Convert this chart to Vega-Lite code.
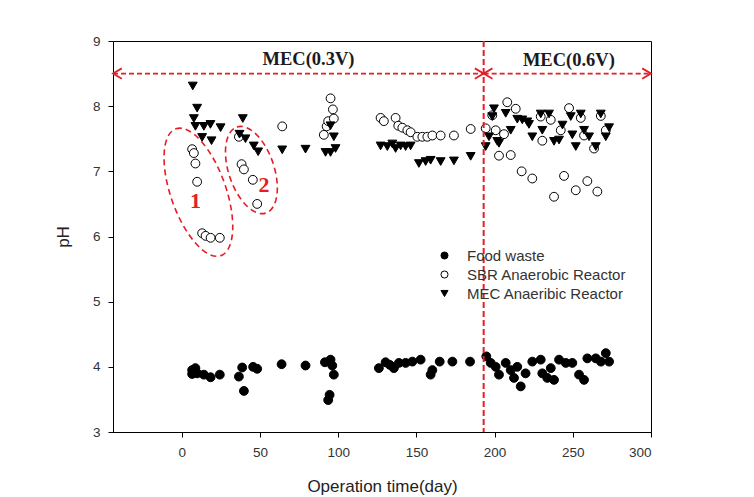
{
  "$schema": "https://vega.github.io/schema/vega-lite/v6.json",
  "width": 538,
  "height": 391,
  "autosize": "none",
  "padding": {"left": 113, "top": 41, "right": 103, "bottom": 65},
  "background": "white",
  "config": {
    "view": {"stroke": "#000", "strokeWidth": 1},
    "font": "Liberation Sans",
    "axis": {"grid": false, "domainColor": "#000", "tickColor": "#000", "tickSize": 5, "labelFont": "Liberation Sans", "labelFontSize": 13.5, "labelColor": "#333", "titleFont": "Liberation Sans", "titleFontWeight": "normal", "titleColor": "#222", "titleFontSize": 17}
  },
  "datasets": {
    "pts": [
      {"s":"Food waste","d":6.6,"p":3.95},{"s":"Food waste","d":8.7,"p":3.98},{"s":"Food waste","d":9.8,"p":3.9},{"s":"Food waste","d":6.6,"p":3.89},{"s":"Food waste","d":14.1,"p":3.88},{"s":"Food waste","d":18.4,"p":3.84},{"s":"Food waste","d":24.3,"p":3.88},{"s":"Food waste","d":38.6,"p":3.99},{"s":"Food waste","d":36.5,"p":3.85},{"s":"Food waste","d":39.7,"p":3.63},{"s":"Food waste","d":45.6,"p":4.0},{"s":"Food waste","d":48.2,"p":3.97},{"s":"Food waste","d":63.8,"p":4.04},{"s":"Food waste","d":79.1,"p":4.02},{"s":"Food waste","d":91.5,"p":4.07},{"s":"Food waste","d":95.1,"p":4.11},{"s":"Food waste","d":96.2,"p":4.02},{"s":"Food waste","d":97.2,"p":3.88},{"s":"Food waste","d":94.5,"p":3.57},{"s":"Food waste","d":93.6,"p":3.49},{"s":"Food waste","d":126,"p":3.98},{"s":"Food waste","d":130.3,"p":4.07},{"s":"Food waste","d":133,"p":4.03},{"s":"Food waste","d":135.6,"p":3.98},{"s":"Food waste","d":138.8,"p":4.06},{"s":"Food waste","d":143.1,"p":4.06},{"s":"Food waste","d":147.4,"p":4.08},{"s":"Food waste","d":152.7,"p":4.11},{"s":"Food waste","d":159.1,"p":3.88},{"s":"Food waste","d":160.2,"p":3.95},{"s":"Food waste","d":164.9,"p":4.08},{"s":"Food waste","d":173,"p":4.08},{"s":"Food waste","d":184.3,"p":4.08},{"s":"Food waste","d":194.7,"p":4.16},{"s":"Food waste","d":197.5,"p":4.06},{"s":"Food waste","d":200.7,"p":4.0},{"s":"Food waste","d":202.8,"p":3.88},{"s":"Food waste","d":207.1,"p":4.06},{"s":"Food waste","d":210.3,"p":3.95},{"s":"Food waste","d":212.4,"p":3.83},{"s":"Food waste","d":214.5,"p":4.0},{"s":"Food waste","d":216.7,"p":3.7},{"s":"Food waste","d":219.8,"p":3.9},{"s":"Food waste","d":224.1,"p":4.08},{"s":"Food waste","d":229.5,"p":4.11},{"s":"Food waste","d":230.5,"p":3.9},{"s":"Food waste","d":235.9,"p":3.98},{"s":"Food waste","d":233.7,"p":3.83},{"s":"Food waste","d":238,"p":3.8},{"s":"Food waste","d":241.2,"p":4.11},{"s":"Food waste","d":245.5,"p":4.06},{"s":"Food waste","d":249.7,"p":4.06},{"s":"Food waste","d":254,"p":3.88},{"s":"Food waste","d":257.2,"p":3.8},{"s":"Food waste","d":259.3,"p":4.13},{"s":"Food waste","d":264.7,"p":4.13},{"s":"Food waste","d":268,"p":4.08},{"s":"Food waste","d":271.1,"p":4.21},{"s":"Food waste","d":273.2,"p":4.08},
      {"s":"SBR Anaerobic Reactor","d":6.6,"p":7.34},{"s":"SBR Anaerobic Reactor","d":7.7,"p":7.28},{"s":"SBR Anaerobic Reactor","d":8.7,"p":7.12},{"s":"SBR Anaerobic Reactor","d":9.8,"p":6.84},{"s":"SBR Anaerobic Reactor","d":13,"p":6.05},{"s":"SBR Anaerobic Reactor","d":15.2,"p":6.01},{"s":"SBR Anaerobic Reactor","d":18.4,"p":5.98},{"s":"SBR Anaerobic Reactor","d":24.3,"p":5.98},{"s":"SBR Anaerobic Reactor","d":36.5,"p":7.53},{"s":"SBR Anaerobic Reactor","d":38.2,"p":7.11},{"s":"SBR Anaerobic Reactor","d":39.7,"p":7.03},{"s":"SBR Anaerobic Reactor","d":45.4,"p":6.87},{"s":"SBR Anaerobic Reactor","d":48.2,"p":6.5},{"s":"SBR Anaerobic Reactor","d":64.2,"p":7.69},{"s":"SBR Anaerobic Reactor","d":90.8,"p":7.56},{"s":"SBR Anaerobic Reactor","d":92.6,"p":7.69},{"s":"SBR Anaerobic Reactor","d":93.6,"p":7.77},{"s":"SBR Anaerobic Reactor","d":95.1,"p":8.12},{"s":"SBR Anaerobic Reactor","d":96.6,"p":7.95},{"s":"SBR Anaerobic Reactor","d":97.2,"p":7.81},{"s":"SBR Anaerobic Reactor","d":127.1,"p":7.82},{"s":"SBR Anaerobic Reactor","d":129.2,"p":7.77},{"s":"SBR Anaerobic Reactor","d":136.7,"p":7.82},{"s":"SBR Anaerobic Reactor","d":138.4,"p":7.7},{"s":"SBR Anaerobic Reactor","d":141,"p":7.67},{"s":"SBR Anaerobic Reactor","d":144.2,"p":7.63},{"s":"SBR Anaerobic Reactor","d":146.3,"p":7.6},{"s":"SBR Anaerobic Reactor","d":150.6,"p":7.53},{"s":"SBR Anaerobic Reactor","d":153.8,"p":7.53},{"s":"SBR Anaerobic Reactor","d":157,"p":7.53},{"s":"SBR Anaerobic Reactor","d":160.2,"p":7.55},{"s":"SBR Anaerobic Reactor","d":165.5,"p":7.55},{"s":"SBR Anaerobic Reactor","d":174,"p":7.55},{"s":"SBR Anaerobic Reactor","d":184.7,"p":7.65},{"s":"SBR Anaerobic Reactor","d":194.3,"p":7.66},{"s":"SBR Anaerobic Reactor","d":198.5,"p":7.86},{"s":"SBR Anaerobic Reactor","d":200.7,"p":7.63},{"s":"SBR Anaerobic Reactor","d":202.8,"p":7.24},{"s":"SBR Anaerobic Reactor","d":206,"p":7.57},{"s":"SBR Anaerobic Reactor","d":208.1,"p":8.06},{"s":"SBR Anaerobic Reactor","d":210.3,"p":7.25},{"s":"SBR Anaerobic Reactor","d":213.5,"p":7.96},{"s":"SBR Anaerobic Reactor","d":217.3,"p":7.0},{"s":"SBR Anaerobic Reactor","d":224.1,"p":6.89},{"s":"SBR Anaerobic Reactor","d":229.5,"p":7.84},{"s":"SBR Anaerobic Reactor","d":230.5,"p":7.47},{"s":"SBR Anaerobic Reactor","d":235.9,"p":7.79},{"s":"SBR Anaerobic Reactor","d":238,"p":6.61},{"s":"SBR Anaerobic Reactor","d":242.3,"p":7.63},{"s":"SBR Anaerobic Reactor","d":244.4,"p":6.93},{"s":"SBR Anaerobic Reactor","d":247.6,"p":7.97},{"s":"SBR Anaerobic Reactor","d":251.9,"p":6.71},{"s":"SBR Anaerobic Reactor","d":255.1,"p":7.82},{"s":"SBR Anaerobic Reactor","d":257.2,"p":7.55},{"s":"SBR Anaerobic Reactor","d":259.3,"p":6.85},{"s":"SBR Anaerobic Reactor","d":263.6,"p":7.35},{"s":"SBR Anaerobic Reactor","d":265.7,"p":6.69},{"s":"SBR Anaerobic Reactor","d":267.9,"p":7.85},{"s":"SBR Anaerobic Reactor","d":271.1,"p":7.63},
      {"s":"MEC Anaeribic Reactor","d":7.0,"p":8.31},{"s":"MEC Anaeribic Reactor","d":9.8,"p":7.97},{"s":"MEC Anaeribic Reactor","d":7.7,"p":7.81},{"s":"MEC Anaeribic Reactor","d":8.7,"p":7.69},{"s":"MEC Anaeribic Reactor","d":14.1,"p":7.69},{"s":"MEC Anaeribic Reactor","d":18.3,"p":7.72},{"s":"MEC Anaeribic Reactor","d":24.8,"p":7.67},{"s":"MEC Anaeribic Reactor","d":13,"p":7.52},{"s":"MEC Anaeribic Reactor","d":19,"p":7.47},{"s":"MEC Anaeribic Reactor","d":39,"p":7.81},{"s":"MEC Anaeribic Reactor","d":36.9,"p":7.57},{"s":"MEC Anaeribic Reactor","d":40.7,"p":7.5},{"s":"MEC Anaeribic Reactor","d":46,"p":7.39},{"s":"MEC Anaeribic Reactor","d":48.8,"p":7.3},{"s":"MEC Anaeribic Reactor","d":64.2,"p":7.33},{"s":"MEC Anaeribic Reactor","d":79.1,"p":7.34},{"s":"MEC Anaeribic Reactor","d":95.1,"p":7.7},{"s":"MEC Anaeribic Reactor","d":97.2,"p":7.53},{"s":"MEC Anaeribic Reactor","d":91.9,"p":7.29},{"s":"MEC Anaeribic Reactor","d":95.1,"p":7.29},{"s":"MEC Anaeribic Reactor","d":98.3,"p":7.35},{"s":"MEC Anaeribic Reactor","d":127.1,"p":7.39},{"s":"MEC Anaeribic Reactor","d":131.4,"p":7.38},{"s":"MEC Anaeribic Reactor","d":134.6,"p":7.42},{"s":"MEC Anaeribic Reactor","d":136.7,"p":7.35},{"s":"MEC Anaeribic Reactor","d":139.9,"p":7.39},{"s":"MEC Anaeribic Reactor","d":143.1,"p":7.38},{"s":"MEC Anaeribic Reactor","d":146.3,"p":7.39},{"s":"MEC Anaeribic Reactor","d":151.6,"p":7.12},{"s":"MEC Anaeribic Reactor","d":155.9,"p":7.15},{"s":"MEC Anaeribic Reactor","d":159.1,"p":7.17},{"s":"MEC Anaeribic Reactor","d":165.5,"p":7.15},{"s":"MEC Anaeribic Reactor","d":174,"p":7.16},{"s":"MEC Anaeribic Reactor","d":184.7,"p":7.23},{"s":"MEC Anaeribic Reactor","d":194.3,"p":7.38},{"s":"MEC Anaeribic Reactor","d":196.4,"p":7.53},{"s":"MEC Anaeribic Reactor","d":198.5,"p":7.84},{"s":"MEC Anaeribic Reactor","d":199.6,"p":7.96},{"s":"MEC Anaeribic Reactor","d":201.7,"p":7.46},{"s":"MEC Anaeribic Reactor","d":202.8,"p":7.43},{"s":"MEC Anaeribic Reactor","d":207.1,"p":7.89},{"s":"MEC Anaeribic Reactor","d":210.3,"p":7.63},{"s":"MEC Anaeribic Reactor","d":214.5,"p":7.8},{"s":"MEC Anaeribic Reactor","d":217.7,"p":7.79},{"s":"MEC Anaeribic Reactor","d":220.9,"p":7.76},{"s":"MEC Anaeribic Reactor","d":222,"p":7.72},{"s":"MEC Anaeribic Reactor","d":224.1,"p":7.53},{"s":"MEC Anaeribic Reactor","d":229.5,"p":7.88},{"s":"MEC Anaeribic Reactor","d":230.5,"p":7.63},{"s":"MEC Anaeribic Reactor","d":234.8,"p":7.88},{"s":"MEC Anaeribic Reactor","d":238,"p":7.46},{"s":"MEC Anaeribic Reactor","d":241.2,"p":7.48},{"s":"MEC Anaeribic Reactor","d":243.4,"p":7.71},{"s":"MEC Anaeribic Reactor","d":248.7,"p":7.84},{"s":"MEC Anaeribic Reactor","d":249.7,"p":7.56},{"s":"MEC Anaeribic Reactor","d":251.9,"p":7.38},{"s":"MEC Anaeribic Reactor","d":255.1,"p":7.88},{"s":"MEC Anaeribic Reactor","d":257.2,"p":7.63},{"s":"MEC Anaeribic Reactor","d":260.4,"p":7.53},{"s":"MEC Anaeribic Reactor","d":264.7,"p":7.38},{"s":"MEC Anaeribic Reactor","d":267.9,"p":7.88},{"s":"MEC Anaeribic Reactor","d":271.1,"p":7.53},{"s":"MEC Anaeribic Reactor","d":273.2,"p":7.67}
    ],
    "arrows": [{"d": -44, "d2": 193, "p": 8.5}, {"d": 193, "d2": 300, "p": 8.5}],
    "heads": [{"d": -44, "p": 8.5, "dir": "L"}, {"d": 193, "p": 8.5, "dir": "R"}, {"d": 193, "p": 8.5, "dir": "L"}, {"d": 300, "p": 8.5, "dir": "R"}],
    "phase": [{"d": 81, "p": 8.73, "t": "MEC(0.3V)"}, {"d": 247.5, "p": 8.71, "t": "MEC(0.6V)"}],
    "nums": [{"d": 8.7, "p": 6.54, "t": "1"}, {"d": 52.5, "p": 6.79, "t": "2"}],
    "e1": [{"d": 10.6, "p": 6.68}],
    "e2": [{"d": 44.5, "p": 7.02}],
    "vline": [{"d": 193}]
  },
  "layer": [
    {
      "data": {"name": "pts"},
      "mark": {"type": "point", "strokeWidth": 1, "size": 78, "opacity": 1},
      "encoding": {
        "x": {"field": "d", "type": "quantitative", "title": "Operation time(day)", "scale": {"domain": [-44, 300], "nice": false, "zero": false}, "axis": {"title": "Operation time(day)", "values": [0, 50, 100, 150, 200, 250, 300], "format": "d", "labelPadding": 8, "titlePadding": 20}},
        "y": {"field": "p", "type": "quantitative", "title": "pH", "scale": {"domain": [3, 9], "nice": false, "zero": false}, "axis": {"title": "pH", "values": [3, 4, 5, 6, 7, 8, 9], "format": "d", "labelPadding": 8, "titlePadding": 20}},
        "shape": {"field": "s", "type": "nominal", "scale": {"domain": ["Food waste", "SBR Anaerobic Reactor", "MEC Anaeribic Reactor"], "range": ["circle", "circle", "triangle-down"]},
          "legend": {"title": null, "orient": "none", "legendX": 324, "legendY": 207, "padding": 0, "labelFont": "Liberation Sans", "labelFontSize": 15, "labelColor": "#333", "symbolSize": 50, "symbolStrokeWidth": 1, "symbolOpacity": 1, "labelOffset": 15, "rowPadding": 3}},
        "fill": {"field": "s", "type": "nominal", "scale": {"domain": ["Food waste", "SBR Anaerobic Reactor", "MEC Anaeribic Reactor"], "range": ["#000", "#fff", "#000"]},
          "legend": {"title": null, "orient": "none", "legendX": 324, "legendY": 207, "padding": 0, "labelFont": "Liberation Sans", "labelFontSize": 15, "labelColor": "#333", "symbolSize": 50, "symbolStrokeWidth": 1, "symbolOpacity": 1, "labelOffset": 15, "rowPadding": 3}},
        "stroke": {"field": "s", "type": "nominal", "scale": {"domain": ["Food waste", "SBR Anaerobic Reactor", "MEC Anaeribic Reactor"], "range": ["#000", "#000", "#000"]},
          "legend": {"title": null, "orient": "none", "legendX": 324, "legendY": 207, "padding": 0, "labelFont": "Liberation Sans", "labelFontSize": 15, "labelColor": "#333", "symbolSize": 50, "symbolStrokeWidth": 1, "symbolOpacity": 1, "labelOffset": 15, "rowPadding": 3}}
      }
    },
    {
      "data": {"name": "e1"},
      "mark": {"type": "point", "shape": "M0,-1C0.226,-1,0.41,-0.552,0.41,0C0.41,0.552,0.226,1,0,1C-0.226,1,-0.41,0.552,-0.41,0C-0.41,-0.552,-0.226,-1,0,-1Z", "size": 18117, "angle": 340.5, "filled": false, "stroke": "#e41e26", "strokeWidth": 1.6, "strokeDash": [6, 4], "opacity": 1},
      "encoding": {"x": {"field": "d", "type": "quantitative"}, "y": {"field": "p", "type": "quantitative"}}
    },
    {
      "data": {"name": "e2"},
      "mark": {"type": "point", "shape": "M0,-1C0.276,-1,0.5,-0.552,0.5,0C0.5,0.552,0.276,1,0,1C-0.276,1,-0.5,0.552,-0.5,0C-0.5,-0.552,-0.276,-1,0,-1Z", "size": 8245, "angle": 341.4, "filled": false, "stroke": "#e41e26", "strokeWidth": 1.6, "strokeDash": [6, 4], "opacity": 1},
      "encoding": {"x": {"field": "d", "type": "quantitative"}, "y": {"field": "p", "type": "quantitative"}}
    },
    {
      "data": {"name": "arrows"},
      "mark": {"type": "rule", "color": "#e41e26", "strokeWidth": 1.8, "strokeDash": [5, 3]},
      "encoding": {"x": {"field": "d", "type": "quantitative"}, "x2": {"field": "d2"}, "y": {"field": "p", "type": "quantitative"}}
    },
    {
      "data": {"name": "heads"},
      "transform": [{"filter": "datum.dir === 'L'"}],
      "mark": {"type": "point", "shape": "M2.2,-1.3L0,0L2.2,1.3", "size": 64, "filled": false, "stroke": "#e41e26", "strokeWidth": 1.8, "opacity": 1},
      "encoding": {"x": {"field": "d", "type": "quantitative"}, "y": {"field": "p", "type": "quantitative"}}
    },
    {
      "data": {"name": "heads"},
      "transform": [{"filter": "datum.dir === 'R'"}],
      "mark": {"type": "point", "shape": "M-2.2,-1.3L0,0L-2.2,1.3", "size": 64, "filled": false, "stroke": "#e41e26", "strokeWidth": 1.8, "opacity": 1},
      "encoding": {"x": {"field": "d", "type": "quantitative"}, "y": {"field": "p", "type": "quantitative"}}
    },
    {
      "data": {"name": "phase"},
      "mark": {"type": "text", "font": "Liberation Serif", "fontWeight": "bold", "fontSize": 18.5, "color": "#1a1a24"},
      "encoding": {"x": {"field": "d", "type": "quantitative"}, "y": {"field": "p", "type": "quantitative"}, "text": {"field": "t"}}
    },
    {
      "data": {"name": "nums"},
      "mark": {"type": "text", "font": "Liberation Serif", "fontWeight": "bold", "fontSize": 22, "color": "#e41e26"},
      "encoding": {"x": {"field": "d", "type": "quantitative"}, "y": {"field": "p", "type": "quantitative"}, "text": {"field": "t"}}
    },
    {
      "data": {"name": "vline"},
      "mark": {"type": "rule", "color": "#e41e26", "strokeWidth": 2, "strokeDash": [6, 3]},
      "encoding": {"x": {"field": "d", "type": "quantitative"}}
    }
  ]
}
